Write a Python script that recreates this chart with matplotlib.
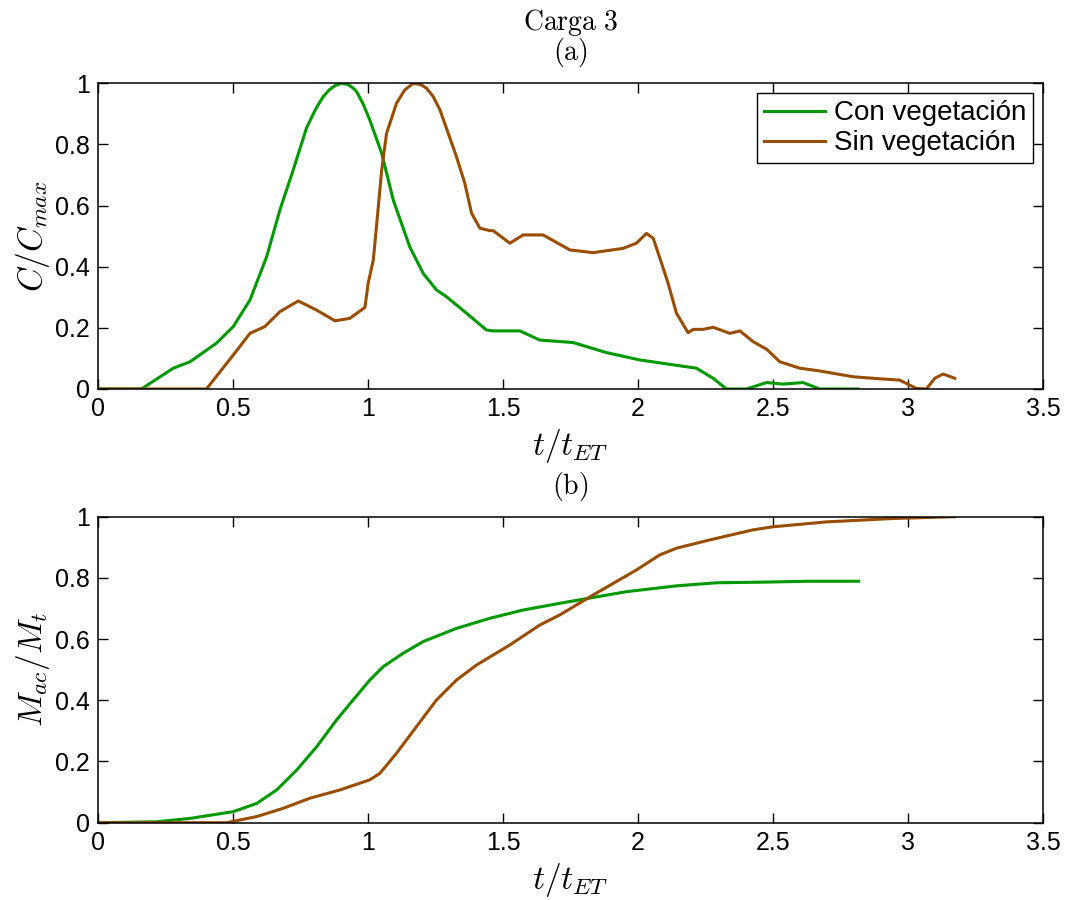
import numpy as np
import matplotlib
matplotlib.use('Agg')
import matplotlib.pyplot as plt

plt.rcParams['font.family'] = ['Liberation Sans', 'DejaVu Sans']
plt.rcParams['mathtext.fontset'] = 'cm'

# (a) concentration, con vegetacion
t_cv = [0.0, 0.16, 0.278, 0.34, 0.438, 0.5, 0.562, 0.624, 0.673, 0.722, 0.772, 0.805,
        0.833, 0.855, 0.878, 0.901, 0.925, 0.945, 0.957, 0.98, 1.006, 1.05, 1.093,
        1.154, 1.204, 1.253, 1.29, 1.364, 1.438, 1.463, 1.562, 1.636, 1.759, 1.883,
        2.006, 2.13, 2.216, 2.278, 2.327, 2.401, 2.476, 2.537, 2.611, 2.673, 2.815]
c_cv = [0.0, 0.0, 0.068, 0.089, 0.15, 0.204, 0.291, 0.433, 0.586, 0.716, 0.855, 0.915,
        0.956, 0.978, 0.993, 1.0, 0.996, 0.984, 0.973, 0.935, 0.88, 0.771, 0.618,
        0.465, 0.378, 0.324, 0.302, 0.248, 0.193, 0.19, 0.19, 0.16, 0.152, 0.119,
        0.095, 0.079, 0.068, 0.035, 0.0, 0.0, 0.021, 0.016, 0.021, 0.0, 0.0]

# (a) concentration, sin vegetacion
t_sv = [0.0, 0.401, 0.5, 0.562, 0.617, 0.673, 0.741, 0.809, 0.877, 0.932, 0.988, 1.0,
        1.019, 1.033, 1.05, 1.068, 1.105, 1.135, 1.167, 1.195, 1.216, 1.24, 1.266,
        1.327, 1.358, 1.383, 1.414, 1.451, 1.463, 1.525, 1.574, 1.648, 1.747, 1.833,
        1.944, 1.994, 2.031, 2.056, 2.087, 2.111, 2.142, 2.185, 2.204, 2.241, 2.278,
        2.34, 2.377, 2.426, 2.476, 2.525, 2.599, 2.673, 2.796, 2.87, 2.969, 3.031,
        3.068, 3.099, 3.13, 3.173]
c_sv = [0.0, 0.0, 0.111, 0.182, 0.204, 0.253, 0.288, 0.258, 0.223, 0.231, 0.267, 0.346,
        0.422, 0.553, 0.716, 0.836, 0.935, 0.978, 1.0, 0.996, 0.984, 0.958, 0.913,
        0.76, 0.673, 0.575, 0.526, 0.518, 0.518, 0.477, 0.504, 0.504, 0.455, 0.446,
        0.46, 0.477, 0.509, 0.493, 0.411, 0.346, 0.248, 0.184, 0.195, 0.195, 0.202,
        0.182, 0.19, 0.155, 0.13, 0.089, 0.068, 0.059, 0.04, 0.035, 0.029, 0.002,
        0.0, 0.035, 0.049, 0.035]

# (b) accumulated mass
tm_cv = [0.0, 0.216, 0.34, 0.5, 0.587, 0.661, 0.735, 0.809, 0.883, 0.944, 1.006, 1.056,
         1.13, 1.204, 1.327, 1.451, 1.574, 1.71, 1.957, 2.142, 2.29, 2.451, 2.636, 2.817]
m_cv = [0.0, 0.003, 0.014, 0.036, 0.063, 0.107, 0.172, 0.248, 0.336, 0.401, 0.466, 0.51,
        0.554, 0.592, 0.635, 0.668, 0.695, 0.717, 0.755, 0.774, 0.784, 0.786, 0.789, 0.789]

tm_sv = [0.0, 0.475, 0.587, 0.685, 0.784, 0.895, 1.006, 1.043, 1.105, 1.179, 1.253, 1.327,
         1.401, 1.525, 1.636, 1.71, 1.833, 1.994, 2.08, 2.142, 2.265, 2.426, 2.5, 2.698,
         2.944, 3.173]
m_sv = [0.0, 0.0, 0.02, 0.047, 0.08, 0.107, 0.14, 0.161, 0.227, 0.314, 0.401, 0.466,
        0.515, 0.581, 0.646, 0.679, 0.744, 0.826, 0.875, 0.897, 0.924, 0.957, 0.967, 0.983,
        0.994, 1.0]

green = '#009900'
brown = '#994d00'
lw = 2.2

fig = plt.figure(figsize=(10.68, 9), dpi=100)
ax1 = fig.add_axes([0.092, 0.5678, 0.8846, 0.3396])
ax2 = fig.add_axes([0.092, 0.0859, 0.8846, 0.3400])

ax1.plot(t_cv, c_cv, color=green, lw=lw, label='Con vegetación')
ax1.plot(t_sv, c_sv, color=brown, lw=lw, label='Sin vegetación')
ax2.plot(tm_cv, m_cv, color=green, lw=lw)
ax2.plot(tm_sv, m_sv, color=brown, lw=lw)

for ax in (ax1, ax2):
    ax.set_xlim(0, 3.5)
    ax.set_ylim(0, 1)
    ax.set_xticks(np.arange(0, 3.51, 0.5))
    ax.set_xticklabels(['0', '0.5', '1', '1.5', '2', '2.5', '3', '3.5'])
    ax.set_yticks(np.arange(0, 1.01, 0.2))
    ax.set_yticklabels(['0', '0.2', '0.4', '0.6', '0.8', '1'])
    ax.tick_params(direction='in', top=True, right=True, length=7, width=1,
                   labelsize=18, pad=6)
    for s in ax.spines.values():
        s.set_linewidth(1.1)
    ax.set_xlabel(r'$t/t_{ET}$', fontsize=24, labelpad=4)

ax1.set_ylabel(r'$C/C_{max}$', fontsize=24, labelpad=2)
ax2.set_ylabel(r'$M_{ac}/M_t$', fontsize=24, labelpad=2)

ax1.text(0.5, 1.2, r'$\mathrm{Carga\ 3}$', transform=ax1.transAxes,
         ha='center', va='center', fontsize=20)
ax1.text(0.5, 1.1, r'$\mathrm{(a)}$', transform=ax1.transAxes,
         ha='center', va='center', fontsize=20)
ax2.text(0.5, 1.1, r'$\mathrm{(b)}$', transform=ax2.transAxes,
         ha='center', va='center', fontsize=20)

leg = ax1.legend(loc='upper right', fontsize=20, fancybox=False, framealpha=1,
                 edgecolor='black', borderpad=0.25, handlelength=2.2,
                 handletextpad=0.3, labelspacing=0.15, borderaxespad=0.36)
leg.get_frame().set_linewidth(1.0)

fig.savefig('out.png', dpi=100)
